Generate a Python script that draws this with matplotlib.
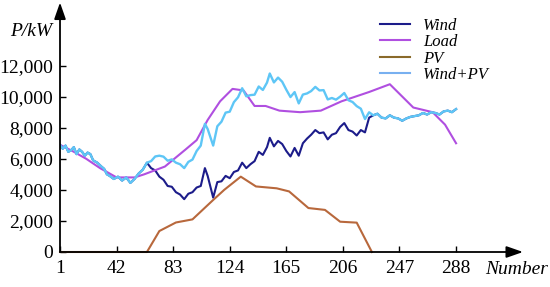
import numpy as np
import matplotlib
matplotlib.use("Agg")
import matplotlib.pyplot as plt
from matplotlib.lines import Line2D

# ---------------- data ----------------
x_ticks = [1, 42, 83, 124, 165, 206, 247, 288]
y_ticks = [0, 2000, 4000, 6000, 8000, 10000, 12000]
y_tick_labels = ["0", "2,000", "4,000", "6,000", "8,000", "10,000", "12,000"]

wind_x = [1, 3, 5, 7, 9, 11, 13, 15, 17, 19, 21, 23, 25, 28, 31, 33, 35, 37, 40, 43,
          46, 49, 52, 55, 58, 61, 64, 67, 70, 73, 76, 79, 82, 85, 88, 91, 94, 97, 100,
          103, 106, 108, 110, 112, 115, 118, 121, 124, 127, 130, 133, 136, 139, 142,
          145, 148, 151, 153, 156, 159, 162, 165, 168, 171, 174, 177, 180, 183, 186,
          189, 192, 195, 198, 201, 204, 207, 210, 213, 216, 219, 222, 225, 228, 231,
          234, 237, 240, 243, 246, 249, 252, 255, 258, 261, 264, 267, 270, 273, 276,
          279, 282, 285, 288]
wind = [6900, 6650, 6850, 6450, 6550, 6750, 6300, 6600, 6450, 6200, 6400, 6300, 5900,
        5750, 5500, 5350, 5000, 4900, 4700, 4850, 4600, 4800, 4450, 4700, 5050, 5300,
        5750, 5400, 5250, 4850, 4650, 4250, 4200, 3850, 3700, 3400, 3750, 3850, 4150,
        4250, 5400, 4900, 4200, 3500, 4500, 4550, 4900, 4750, 5150, 5250, 5750, 5400,
        5650, 5850, 6450, 6250, 6750, 7350, 6800, 7150, 6950, 6500, 6150, 6700, 6200,
        7000, 7300, 7550, 7850, 7650, 7700, 7250, 7550, 7650, 8050, 8300, 7850, 7750,
        7500, 7850, 7700, 8650, 8800, 8900, 8650, 8600, 8800, 8650, 8600, 8450, 8600,
        8700, 8750, 8800, 8950, 8850, 9000, 8950, 8850, 9050, 9100, 9000, 9200]

load_x = [1, 10, 20, 30, 42, 55, 62, 77, 92, 100, 108, 117, 126, 134, 142, 150, 160,
          175, 190, 205, 215, 225, 240, 257, 271, 280, 288]
load = [6900, 6500, 6000, 5400, 4800, 4800, 5000, 5500, 6600, 7200, 8500, 9700, 10500,
        10400, 9400, 9400, 9100, 9000, 9100, 9700, 10000, 10300, 10800, 9300, 9000,
        8200, 7000]

pv_x = [1, 64, 73, 85, 97, 112, 120, 132, 143, 158, 167, 181, 193, 204, 216, 227]
pv = [0, 0, 1350, 1900, 2100, 3350, 4000, 4850, 4220, 4100, 3900, 2830, 2710, 1950,
      1890, 0]

# Wind+PV is the sum of the two read series
wind_pv = np.array(wind) + np.interp(wind_x, pv_x, pv, right=0)

# ---------------- figure ----------------
W, H = 550, 287
fig = plt.figure(figsize=(W / 100, H / 100), dpi=100)
ax = fig.add_axes([60 / W, 35 / H, 463 / W, 247 / H])
ax.set_xlim(1, 336.5)
ax.set_ylim(0, 15900)

serif = ["Liberation Serif", "DejaVu Serif"]

c_wind = "#1c1c8a"
c_load = "#b04fe0"
c_pv = "#b8683c"
c_wpv = "#5ec6f6"

ax.plot(wind_x, wind, color=c_wind, lw=1.5, zorder=2)
ax.plot(load_x, load, color=c_load, lw=1.5, zorder=3)
ax.plot(pv_x, pv, color=c_pv, lw=1.5, zorder=4, clip_on=False)
ax.plot(wind_x, wind_pv, color=c_wpv, lw=1.7, zorder=5)

for s in ax.spines.values():
    s.set_visible(False)

ax.annotate("", xy=(1.0, 0), xytext=(0, 0), xycoords="axes fraction",
            arrowprops=dict(arrowstyle="-|>,head_length=1.0,head_width=0.35",
                            color="black", lw=1.3, shrinkA=0, shrinkB=0), zorder=6)
ax.annotate("", xy=(0, 1.01), xytext=(0, 0), xycoords="axes fraction",
            arrowprops=dict(arrowstyle="-|>,head_length=1.0,head_width=0.35",
                            color="black", lw=1.3, shrinkA=0, shrinkB=0), zorder=6)

ax.set_xticks(x_ticks)
ax.set_xticklabels([str(v) for v in x_ticks], fontfamily=serif, fontsize=14)
ax.set_yticks(y_ticks)
ax.set_yticklabels(y_tick_labels, fontfamily=serif, fontsize=14)
ax.tick_params(axis="x", direction="in", length=4, width=1, pad=6)
ax.tick_params(axis="y", direction="in", length=4, width=1, pad=5)

fig.text(31 / W, 1 - 31 / H, "P/kW", fontfamily=serif, fontstyle="italic",
         fontsize=14, ha="center", va="center")
fig.text(485 / W, 1 - 270 / H, "Number", fontfamily=serif, fontstyle="italic",
         fontsize=14, ha="left", va="center")

handles = [Line2D([], [], color=c_wind, lw=1.5),
           Line2D([], [], color=c_load, lw=1.5),
           Line2D([], [], color="#8a6a2a", lw=1.5),
           Line2D([], [], color="#78b0f0", lw=1.5)]
labels = ["Wind", "Load", "PV", "Wind+PV"]
leg = fig.legend(handles, labels, loc="upper left",
                 bbox_to_anchor=(380 / W, 1 - 18 / H), frameon=False,
                 prop={"family": serif, "style": "italic", "size": 12},
                 handlelength=1.8, handletextpad=0.8, labelspacing=0.02,
                 borderaxespad=0, borderpad=0)

fig.savefig("out.png", dpi=100)
